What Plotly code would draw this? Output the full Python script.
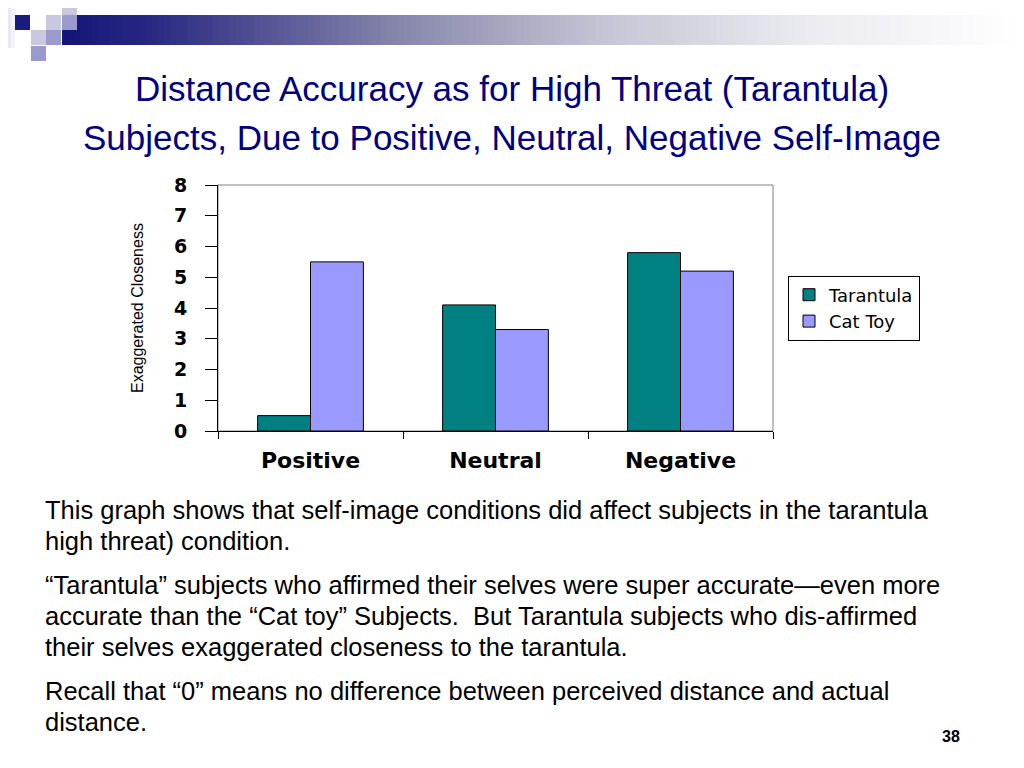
import plotly.graph_objects as go

# ---- data ----
categories = ["Positive", "Neutral", "Negative"]
tarantula = [0.5, 4.1, 5.8]
cat_toy = [5.5, 3.3, 5.2]
series_names = ["Tarantula", "Cat Toy"]
y_ticks = [0, 1, 2, 3, 4, 5, 6, 7, 8]

title_lines = [
    "Distance Accuracy as for High Threat (Tarantula)",
    "Subjects, Due to Positive, Neutral, Negative Self-Image",
]
y_title = "Exaggerated Closeness"
body_lines = [
    ("This graph shows that self-image conditions did affect subjects in the tarantula", 510),
    ("high threat) condition.", 541),
    ("\u201cTarantula\u201d subjects who affirmed their selves were super accurate\u2014even more", 585),
    ("accurate than the \u201cCat toy\u201d Subjects.  But Tarantula subjects who dis-affirmed", 616),
    ("their selves exaggerated closeness to the tarantula.", 647),
    ("Recall that \u201c0\u201d means no difference between perceived distance and actual", 691),
    ("distance.", 722),
]
page_number = "38"

# ---- layout geometry (screen pixels; page has an 8px body margin) ----
OFF = 8
SW, SH = 1024, 768
W, H = SW - OFF, SH - OFF
L, R, T, B = 218, 773, 185, 431
PW, PH = R - L, B - T


def px(x):
    return (x - L) / PW


def py(y):
    return (B - y) / PH


fig = go.Figure()
fig.add_trace(go.Bar(
    x=categories, y=tarantula, name=series_names[0],
    marker=dict(color="#008080", line=dict(color="#000000", width=1)),
))
fig.add_trace(go.Bar(
    x=categories, y=cat_toy, name=series_names[1],
    marker=dict(color="#9999FF", line=dict(color="#000000", width=1)),
))

shapes = []
# plot area frame (gray top/right)
shapes.append(dict(type="rect", xref="paper", yref="paper", x0=0, x1=1, y0=0, y1=1,
                   line=dict(color="#808080", width=1), layer="below"))

# header decoration: gradient bar
stops = [(62, (20, 20, 120)), (150, (40, 40, 130)), (400, (135, 135, 172)),
         (600, (196, 196, 212)), (800, (234, 234, 240)), (1020, (255, 255, 255))]


def grad_color(x):
    for (x0, c0), (x1, c1) in zip(stops[:-1], stops[1:]):
        if x0 <= x <= x1:
            t = (x - x0) / (x1 - x0)
            return "rgb(%d,%d,%d)" % tuple(round(a + (b - a) * t) for a, b in zip(c0, c1))
    return "rgb(255,255,255)"


step = 6
x = 62
while x < 1020:
    shapes.append(dict(type="rect", xref="paper", yref="paper",
                       x0=px(x), x1=px(x + step + 0.5), y0=py(45), y1=py(15),
                       fillcolor=grad_color(x + step / 2), line=dict(width=0), layer="above"))
    x += step

# faint left-edge fade
for x0, x1, col in [(8, 11, "#E8E8F3"), (11, 15, "#F2F2F8")]:
    shapes.append(dict(type="rect", xref="paper", yref="paper",
                       x0=px(x0), x1=px(x1), y0=py(48), y1=py(8),
                       fillcolor=col, line=dict(width=0), layer="above"))

squares = [
    (62, 0, "#C8C8E0"), (15, 15, "#1A1A80"), (46, 15, "#C8C8E0"), (62, 15, "#9A9ACC"),
    (31, 30, "#C8C8E0"), (46, 30, "#9A9ACC"), (31, 46, "#9A9ACC"),
]
for sx, sy, col in squares:
    shapes.append(dict(type="rect", xref="paper", yref="paper",
                       x0=px(sx), x1=px(sx + 15), y0=py(sy + 15), y1=py(sy),
                       fillcolor=col, line=dict(width=0), layer="above"))

annotations = []
for line, yc in zip(title_lines, [88, 138]):
    annotations.append(dict(text=line, xref="paper", yref="paper", x=px(512), y=py(yc),
                            xanchor="center", yanchor="middle", showarrow=False,
                            font=dict(family="Liberation Sans, Arial, sans-serif",
                                      size=35, color="#000080")))
annotations.append(dict(text=y_title, xref="paper", yref="paper", x=px(137), y=py(308),
                        xanchor="center", yanchor="middle", showarrow=False, textangle=-90,
                        font=dict(family="Liberation Sans, Arial, sans-serif",
                                  size=16, color="#000000")))
for line, yc in body_lines:
    annotations.append(dict(text=line, xref="paper", yref="paper", x=px(43), y=py(yc),
                            xanchor="left", yanchor="middle", showarrow=False,
                            font=dict(family="Liberation Sans, Arial, sans-serif",
                                      size=25.5, color="#000000")))
annotations.append(dict(text="<b>" + page_number + "</b>", xref="paper", yref="paper",
                        x=px(951), y=py(736), xanchor="center", yanchor="middle",
                        showarrow=False,
                        font=dict(family="Liberation Sans, Arial, sans-serif", size=16,
                                  color="#000000")))

fig.update_layout(
    width=W, height=H,
    margin=dict(l=L - OFF, r=SW - R, t=T - OFF, b=SH - B, pad=0),
    paper_bgcolor="white", plot_bgcolor="white",
    barmode="group", bargap=1.5 / 3.5, bargroupgap=0,
    showlegend=True,
    legend=dict(x=px(788), y=py(308), xanchor="left", yanchor="middle",
                bordercolor="#000000", borderwidth=1, bgcolor="white",
                font=dict(family="DejaVu Sans, Verdana, sans-serif", size=18, color="#000000"),
                tracegroupgap=0, itemwidth=30),
    xaxis=dict(
        type="category", tickson="boundaries", ticks="outside", ticklen=7,
        tickcolor="#000000", showline=True, linecolor="#000000", linewidth=1,
        showgrid=False, zeroline=False, ticklabelstandoff=10,
        tickfont=dict(family="DejaVu Sans, Verdana, sans-serif", size=22, color="#000000",
                      weight="bold"),
    ),
    yaxis=dict(
        range=[0, 8], tickvals=y_ticks, ticks="outside", ticklen=12,
        tickcolor="#000000", showline=True, linecolor="#000000", linewidth=1,
        showgrid=False, zeroline=False, ticklabelstandoff=14,
        tickfont=dict(family="DejaVu Sans, Verdana, sans-serif", size=19, color="#000000",
                      weight="bold"),
    ),
    shapes=shapes,
    annotations=annotations,
)

fig.write_html("out.html")
